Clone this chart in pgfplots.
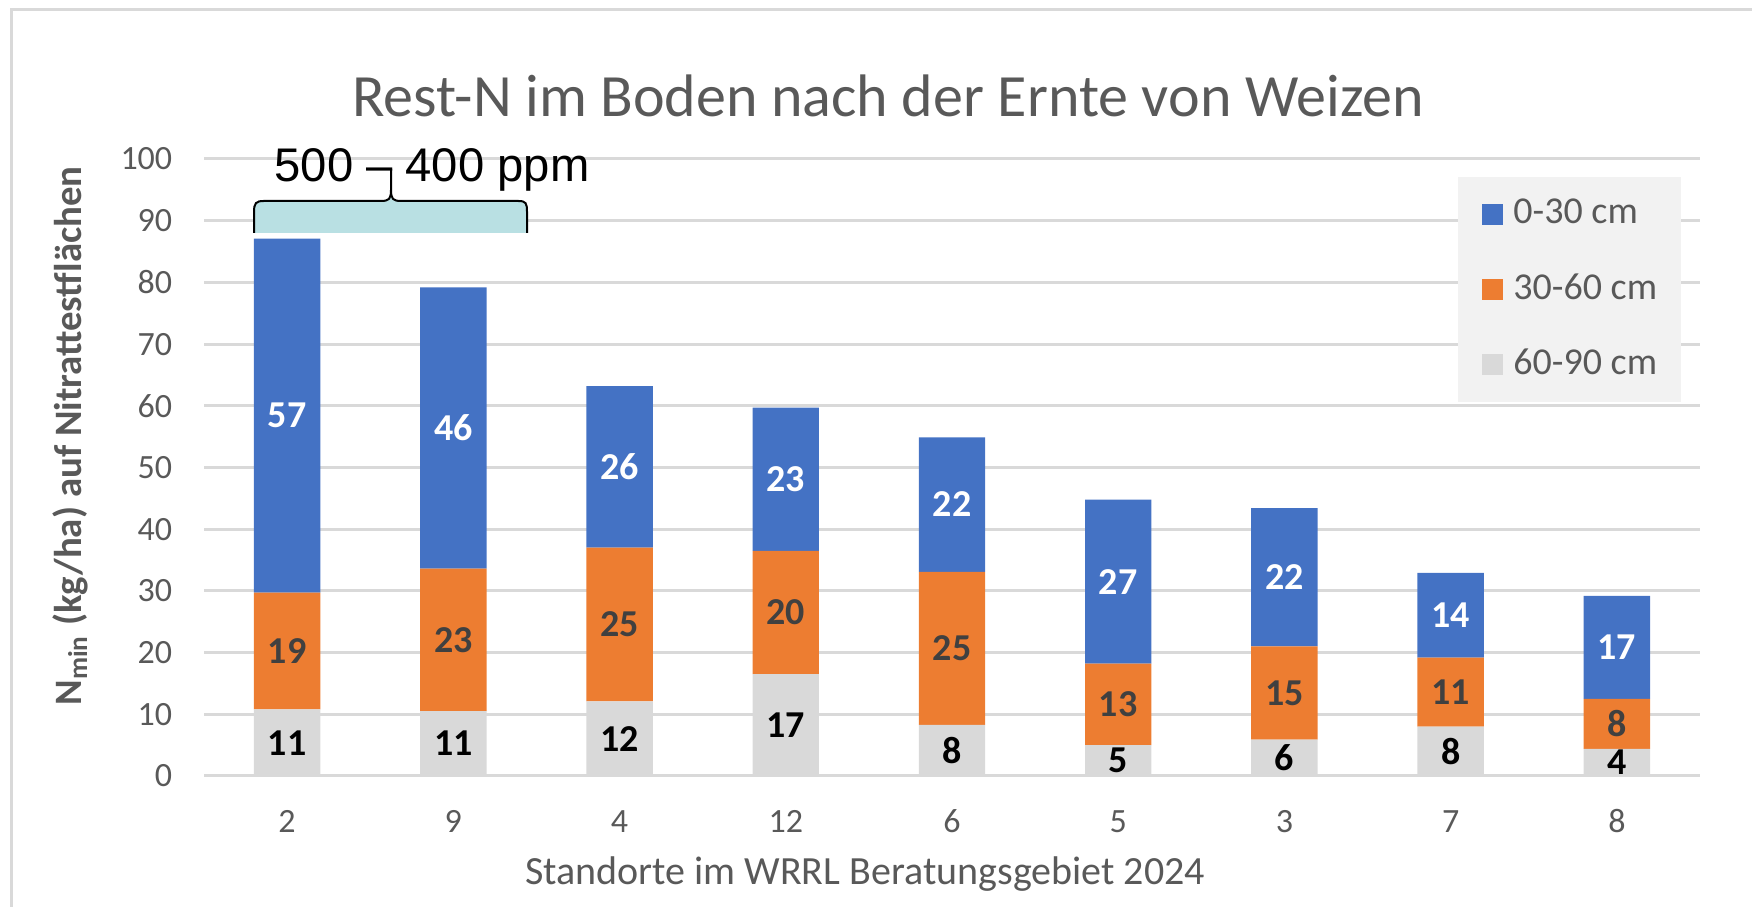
\documentclass[border=0pt]{standalone}
\usepackage{pgfplots}
\pgfplotsset{compat=1.18}
\usepackage{pgfplotstable}
\usepackage{fontspec}
\setmainfont{Carlito}
\newfontfamily\arialfont{Liberation Sans}
\definecolor{cblue}{HTML}{4472C4}
\definecolor{corange}{HTML}{ED7D31}
\definecolor{cgray}{HTML}{D9D9D9}
\definecolor{tgray}{HTML}{595959}
\definecolor{olab}{HTML}{404040}
\definecolor{cyanfill}{HTML}{B9E0E3}
\definecolor{legbg}{HTML}{F2F2F2}

\pgfplotstableread{
x g o b gl ol bl
0 10.8 18.9 57.4 11 19 57
1 10.5 23.1 45.6 11 23 46
2 12.1 24.9 26.2 12 25 26
3 16.5 20.0 23.2 17 20 23
4 8.3 24.8 21.8 8 25 22
5 5.0 13.2 26.6 5 13 27
6 5.9 15.1 22.4 6 15 22
7 8.0 11.2 13.7 8 11 14
8 4.4 8.1 16.7 4 8 17
}\datatable

\begin{document}
\begin{tikzpicture}
\useasboundingbox (0,0) rectangle (438pt,226.75pt);
\draw[cgray, line width=0.75pt] (2.75pt,-2pt) -- (2.75pt,224.25pt) -- (440pt,224.25pt);
\begin{axis}[
  scale only axis,
  width=374pt, height=154.25pt,
  at={(51pt,32.75pt)}, anchor=south west,
  ybar stacked, bar width=16.6pt,
  xmin=-0.5, xmax=8.5, ymin=0, ymax=100,
  enlargelimits=false,
  xtick={0,...,8}, xticklabels={2,9,4,12,6,5,3,7,8},
  ytick={0,10,...,100},
  ymajorgrids, major grid style={cgray, line width=0.75pt},
  axis line style={draw=none},
  major tick length=0pt, tick style={draw=none},
  /pgf/number format/assume math mode=true,
  tick label style={font=\fontsize{8.5}{10}\selectfont, text=tgray},
  yticklabel style={anchor=east, inner sep=0pt, xshift=-7.75pt},
  xticklabel style={anchor=base, inner sep=0pt, yshift=-14.25pt},
  point meta=explicit symbolic,
  nodes near coords,
  every node near coord/.append style={anchor=center,
    font=\bfseries\fontsize{9.5}{11}\selectfont},
  reverse legend,
  legend cell align=left,
  legend style={at={(0.838,0.972)}, anchor=north west, fill=legbg, draw=none,
    inner xsep=6pt, inner ysep=0pt,
    font=\fontsize{9.5}{11}\selectfont, text=tgray,
    nodes={inner sep=0pt, minimum height=18.75pt},
    /tikz/every odd column/.append style={column sep=2.5pt}},
  legend image code/.code={\fill[#1, draw=none] (0pt,-2.625pt) rectangle (5.25pt,2.625pt);},
]
\addplot[fill=cgray, draw=none,
  every node near coord/.append style={text=black}]
  table[x=x, y=g, meta=gl] {\datatable};
\addlegendentry{60-90 cm}
\addplot[fill=corange, draw=none,
  every node near coord/.append style={text=olab}]
  table[x=x, y=o, meta=ol] {\datatable};
\addlegendentry{30-60 cm}
\addplot[fill=cblue, draw=none,
  every node near coord/.append style={text=white}]
  table[x=x, y=b, meta=bl] {\datatable};
\addlegendentry{0-30 cm}
\end{axis}
% title
\node[anchor=base, text=tgray, font=\fontsize{15}{18}\selectfont, inner sep=0pt] at (222pt,197.5pt) {Rest-N im Boden nach der Ernte von Weizen};
% x label
\node[anchor=base, text=tgray, font=\fontsize{10}{12}\selectfont, inner sep=0pt] at (216.25pt,5.5pt) {Standorte im WRRL Beratungsgebiet 2024};
% y label
\node[rotate=90, anchor=center, text=tgray, font=\bfseries\fontsize{9.7}{11}\selectfont, inner sep=0pt] at (17.5pt,117.75pt) {N\textsubscript{min} (kg/ha) auf Nitrattestflächen};
% brace annotation
\begin{scope}[x=0.25pt, y=-0.25pt, yshift=226.75pt]
\fill[cyanfill] (254,233) -- (254,212) .. controls (254,203) and (256,201) .. (264,201) -- (381,201) .. controls (389,201) and (391,199) .. (391,190) -- (391,190) .. controls (391,199) and (393,201) .. (401,201) -- (518,201) .. controls (526,201) and (527,203) .. (527,212) -- (527,233) -- cycle;
\draw[black, line width=0.5pt] (254,233) -- (254,212) .. controls (254,203) and (256,201) .. (264,201) -- (381,201) .. controls (389,201) and (391,199) .. (391,190) -- (391,169) -- (391,190) .. controls (391,199) and (393,201) .. (401,201) -- (518,201) .. controls (526,201) and (527,203) .. (527,212) -- (527,233);
\node[anchor=base, inner sep=0pt, font=\arialfont\fontsize{11.8}{13}\selectfont] at (432,182) {500 – 400 ppm};
\end{scope}
\end{tikzpicture}
\end{document}
